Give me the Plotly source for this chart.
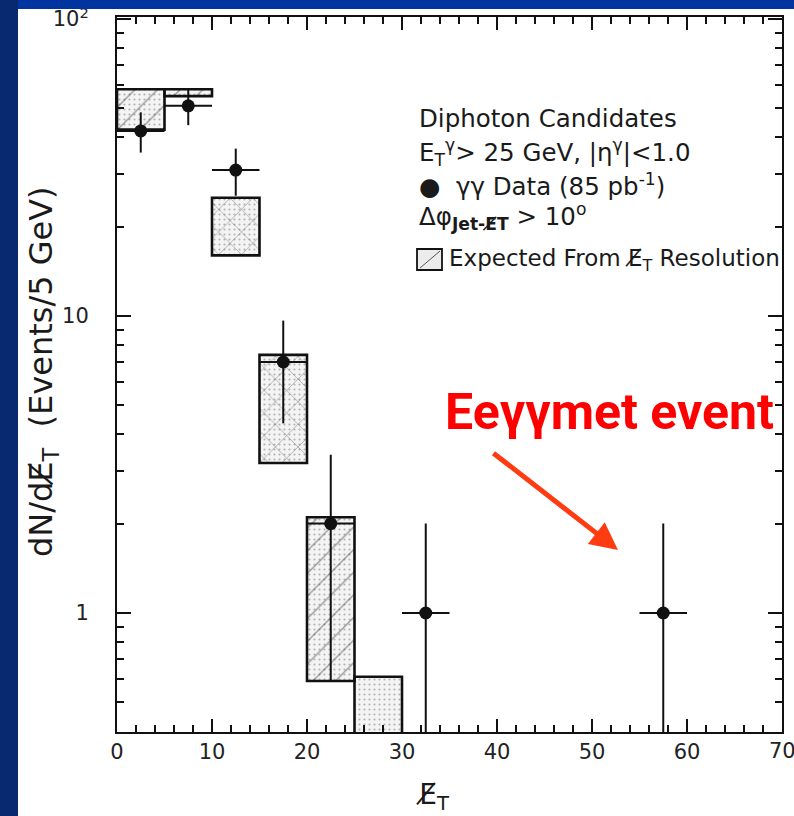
import plotly.graph_objects as go

# Missing-ET spectrum of diphoton candidates (events per 5 GeV bin)
bin_centers = [2.5, 7.5, 12.5, 17.5, 22.5, 27.5]
expected_low = [42.4, 55.0, 16.0, 3.2, 0.59, 0.3]
expected_high = [58.0, 58.0, 25.0, 7.4, 2.1, 0.61]
hatch_shapes = ["/", "/", "x", "x", "/", ""]

data_x = [2.5, 7.5, 12.5, 17.5, 22.5, 32.5, 57.5]
data_y = [42, 51, 31, 7, 2, 1, 1]
data_err_up = [6.5, 7.1, 5.6, 2.65, 1.41, 1.0, 1.0]
data_err_down = [6.5, 7.1, 5.6, 2.65, 1.41, 1.0, 1.0]
data_half_width = [2.5, 2.5, 2.5, 2.5, 2.5, 2.5, 2.5]

x_ticks = [0, 10, 20, 30, 40, 50, 60, 70]
y_ticks = [1, 10, 100]
y_tick_text = ["1", "10", "10<sup>2</sup>"]
y_minor = [0.4, 0.5, 0.6, 0.7, 0.8, 0.9, 2, 3, 4, 5, 6, 7, 8, 9,
           20, 30, 40, 50, 60, 70, 80, 90]

W, H = 794, 816
L, R, T, B = 117, 12, 17, 84
PW, PH = W - L - R, H - T - B


def px(xp):
    return (xp - L) / PW


def py(yp):
    return (H - B - yp) / PH


INK = "#111111"
FONT = "DejaVu Sans"
TICK_FONT = dict(size=21, family=FONT, color="#222")

heights = [h - l for h, l in zip(expected_high, expected_low)]

fig = go.Figure()

# stippled fill of the expected-resolution histogram
fig.add_trace(go.Bar(
    x=bin_centers, y=heights, base=expected_low, width=5,
    marker=dict(color="white", line=dict(width=0),
                pattern=dict(shape=".", size=5, solidity=0.15,
                             fgcolor="#707070", bgcolor="#f4f4f4")),
    showlegend=False, hoverinfo="skip",
))
# diagonal hatching and outline on top
fig.add_trace(go.Bar(
    x=bin_centers, y=heights, base=expected_low, width=5,
    marker=dict(color="rgba(0,0,0,0)", line=dict(width=2.6, color=INK),
                pattern=dict(shape=hatch_shapes, size=16, solidity=0.08,
                             fgcolor="#333333", bgcolor="rgba(0,0,0,0)")),
    showlegend=False, hoverinfo="skip",
))

# diphoton data points with errors
fig.add_trace(go.Scatter(
    x=data_x, y=data_y, mode="markers",
    marker=dict(size=13, color=INK),
    error_y=dict(type="data", array=data_err_up, arrayminus=data_err_down,
                 symmetric=False, thickness=2, width=0, color=INK),
    error_x=dict(type="data", array=data_half_width, thickness=2, width=0,
                 color=INK),
    showlegend=False, hoverinfo="skip",
))

fig.update_layout(
    barmode="overlay",
    width=W, height=H,
    margin=dict(l=L, r=R, t=T, b=B, autoexpand=False),
    paper_bgcolor="#0035a0",
    plot_bgcolor="white",
    font=dict(family=FONT, color=INK),
)

fig.update_xaxes(
    range=[0, 70], showgrid=False, zeroline=False, automargin=False,
    showline=True, linecolor=INK, linewidth=2, mirror="allticks",
    ticks="inside", ticklen=13, tickwidth=2, tickcolor=INK,
    tickvals=x_ticks, ticktext=[str(v) for v in x_ticks],
    tickfont=TICK_FONT,
    ticklabelstandoff=0,
    minor=dict(ticks="inside", dtick=2, ticklen=7, tickwidth=1.5,
               tickcolor=INK, showgrid=False),
)
fig.update_yaxes(
    type="log", range=[-0.4007, 2.0067], showgrid=False, zeroline=False,
    automargin=False,
    showline=True, linecolor=INK, linewidth=2, mirror="allticks",
    ticks="inside", ticklen=14, tickwidth=2, tickcolor=INK,
    tickvals=y_ticks, ticktext=y_tick_text,
    tickfont=TICK_FONT,
    ticklabelstandoff=22,
    minor=dict(ticks="inside", tickvals=y_minor, ticklen=7, tickwidth=1.5,
               tickcolor=INK, showgrid=False),
)

shapes = [
    # white page inside the blue frame
    dict(type="rect", xref="paper", yref="paper", layer="below",
         x0=px(18), x1=px(W + 5), y0=py(H + 5), y1=py(9),
         fillcolor="white", line=dict(width=0)),
    # darker left band
    dict(type="rect", xref="paper", yref="paper", layer="above",
         x0=px(-5), x1=px(18), y0=py(H + 5), y1=py(-5),
         fillcolor="#08296f", line=dict(width=0)),
    # top band
    dict(type="rect", xref="paper", yref="paper", layer="above",
         x0=px(18), x1=px(W + 5), y0=py(9), y1=py(-5),
         fillcolor="#0035a0", line=dict(width=0)),
    # legend swatch for the expected histogram
    dict(type="rect", xref="paper", yref="paper",
         x0=px(417), x1=px(442), y0=py(270), y1=py(249),
         fillcolor="#ececec", line=dict(width=1.8, color=INK)),
    dict(type="line", xref="paper", yref="paper",
         x0=px(420), x1=px(440), y0=py(268), y1=py(251),
         line=dict(width=1, color="#555")),
]

ann = []
# last x tick label sits on the window edge, so it is placed by hand
ann.append(dict(x=x_ticks[-1], xref="x", y=py(751), yref="paper",
                text=str(x_ticks[-1]), showarrow=False,
                xanchor="center", yanchor="middle", font=TICK_FONT))

legend_lines = [
    ("Diphoton Candidates", 118),
    ("E<sub>T</sub><sup>γ</sup>> 25 GeV, |η<sup>γ</sup>|<1.0", 152),
    ("●  γγ Data (85 pb<sup>-1</sup>)", 185),
    ("Δφ<sub><b>Jet-E̸T</b></sub> > 10<sup>o</sup>", 217),
]
for txt, yy in legend_lines:
    ann.append(dict(x=px(417), y=py(yy), xref="paper", yref="paper",
                    text=txt, showarrow=False, xanchor="left",
                    yanchor="middle", font=dict(size=24.5, family=FONT,
                                                color="#1a1a1a")))
ann.append(dict(x=px(447), y=py(260), xref="paper", yref="paper",
                text="Expected From E̸<sub>T</sub> Resolution",
                showarrow=False, xanchor="left", yanchor="middle",
                font=dict(size=23, family=FONT, color="#1a1a1a")))

# axis titles
ann.append(dict(x=px(43), y=py(372), xref="paper", yref="paper",
                text="dN/dE̸<sub>T</sub>  (Events/5 GeV)", textangle=-90,
                showarrow=False, xanchor="center", yanchor="middle",
                font=dict(size=32, family=FONT, color="#1a1a1a")))
ann.append(dict(x=px(433), y=py(797), xref="paper", yref="paper",
                text="E̸<sub>T</sub>", showarrow=False,
                xanchor="center", yanchor="middle",
                font=dict(size=28, family=FONT, color="#1a1a1a")))

# highlighted event label and arrow
ann.append(dict(x=px(609), y=py(412), xref="paper", yref="paper",
                text="<b>Eeγγmet event</b>", showarrow=False,
                xanchor="center", yanchor="middle",
                font=dict(size=50, family="Roboto", color="#ff0000")))
ann.append(dict(x=px(618), y=py(550), xref="paper", yref="paper",
                ax=492 - 618, ay=452 - 550, axref="pixel", ayref="pixel",
                text="", showarrow=True, arrowhead=2, arrowsize=1.1,
                arrowwidth=5, arrowcolor="#ff3b12"))

fig.update_layout(shapes=shapes, annotations=ann)

fig.write_html("out.html")
